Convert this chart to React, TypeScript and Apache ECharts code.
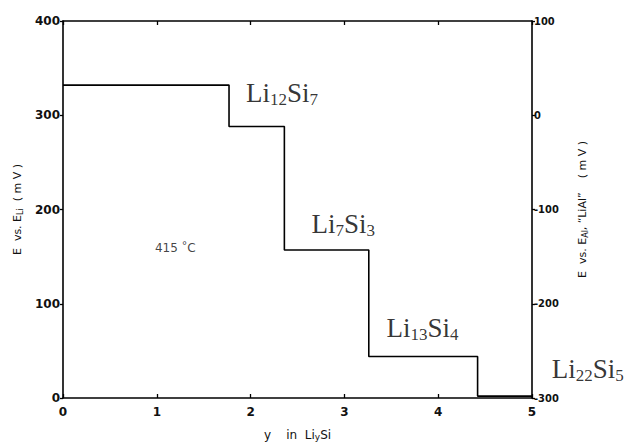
import React, { useEffect, useRef } from "react";
import * as echarts from "echarts";

// plateau data: y in LiySi where each plateau starts, and its potential (mV vs Li)
const plateauStarts = [0, 1.77, 2.36, 3.26, 4.42, 5];
const plateauValues = [332, 288, 157, 44, 2, 2];
const xTicks = [0, 1, 2, 3, 4, 5];
const leftTicks = [0, 100, 200, 300, 400];
const rightOffset = -300; // E vs E_Al = E vs E_Li - 300

const phaseLabels = [
  { text: "{m|Li}{s|12}{m|Si}{s|7}", x: 1.95, y: 324 },
  { text: "{m|Li}{s|7}{m|Si}{s|3}", x: 2.65, y: 185 },
  { text: "{m|Li}{s|13}{m|Si}{s|4}", x: 3.45, y: 74 },
  { text: "{m|Li}{s|22}{m|Si}{s|5}", x: 5.21, y: 31 },
];
const tempLabel = { x: 0.98, y: 159 };

export default function App() {
  const ref = useRef<HTMLDivElement>(null);
  useEffect(() => {
    const chart = echarts.init(ref.current!, null, { renderer: "svg" });
    const sans = "DejaVu Sans";
    const serif = "Liberation Serif";
    const axisLine = { show: true, onZero: false, lineStyle: { color: "#000", width: 1.6 } };
    const tickStyle = { color: "#000", width: 1.3 };
    const stepData = plateauStarts.map((x, i) => [x, plateauValues[i]]);
    const richPhase = {
      m: { fontSize: 27, fontFamily: serif, color: "#000", lineHeight: 30 },
      s: { fontSize: 17, fontFamily: serif, color: "#000", lineHeight: 30, verticalAlign: "bottom", padding: [10, 0, 0, 0] },
    };
    const nameRich = {
      n: { fontFamily: sans, fontSize: 11, color: "#111" },
      ns: { fontFamily: sans, fontSize: 8, color: "#111", padding: [5, 0, 0, 0] },
    };
    chart.setOption({
      animation: false,
      backgroundColor: "#fff",
      grid: { left: 63, right: 95, top: 21, bottom: 45 },
      xAxis: [
        {
          type: "value",
          min: xTicks[0],
          max: xTicks[xTicks.length - 1],
          interval: 1,
          position: "bottom",
          axisLine,
          axisTick: { show: true, inside: true, length: 4, lineStyle: tickStyle },
          splitLine: { show: false },
          axisLabel: { color: "#111", fontFamily: sans, fontSize: 12, fontWeight: "bold", margin: 8 },
          name: "{n|y    in  Li}{ns|y}{n|Si}",
          nameLocation: "middle",
          nameGap: 30,
          nameTextStyle: {
            rich: {
              n: { fontFamily: sans, fontSize: 12, color: "#111" },
              ns: { fontFamily: sans, fontSize: 9, color: "#111", padding: [4, 0, 0, 0] },
            },
          },
        },
        {
          type: "value",
          min: xTicks[0],
          max: xTicks[xTicks.length - 1],
          interval: 1,
          position: "top",
          axisLine,
          axisTick: { show: true, inside: true, length: 4, lineStyle: tickStyle },
          axisLabel: { show: false },
          splitLine: { show: false },
        },
      ],
      yAxis: [
        {
          type: "value",
          min: leftTicks[0],
          max: leftTicks[leftTicks.length - 1],
          interval: 100,
          position: "left",
          axisLine,
          axisTick: { show: true, length: 3, lineStyle: tickStyle },
          splitLine: { show: false },
          axisLabel: { color: "#111", fontFamily: sans, fontSize: 12, fontWeight: "bold", margin: 3 },
          name: "{n|E  vs. E}{ns|Li}{n|  ( m V )}",
          nameLocation: "middle",
          nameGap: 38,
          nameRotate: 90,
          nameTextStyle: { rich: nameRich },
        },
        {
          type: "value",
          min: leftTicks[0] + rightOffset,
          max: leftTicks[leftTicks.length - 1] + rightOffset,
          interval: 100,
          position: "right",
          axisLine,
          axisTick: { show: true, length: 3, lineStyle: tickStyle },
          splitLine: { show: false },
          axisLabel: {
            color: "#111",
            fontFamily: "DejaVu Sans Condensed, DejaVu Sans",
            fontSize: 11,
            fontWeight: "bold",
            margin: 2,
          },
          name: "{n|E  vs. E}{ns|Al}{n|, \u201CLiAl\u201D    ( m V )}",
          nameLocation: "middle",
          nameGap: 44,
          nameRotate: 90,
          nameTextStyle: { rich: nameRich },
        },
      ],
      series: [
        {
          type: "line",
          step: "end",
          data: stepData,
          symbol: "none",
          lineStyle: { color: "#000", width: 1.6 },
          xAxisIndex: 0,
          yAxisIndex: 0,
        },
        {
          type: "scatter",
          clip: false,
          symbolSize: 0,
          silent: true,
          data: phaseLabels.map((p) => ({
            value: [p.x, p.y],
            label: {
              show: true,
              position: "right",
              distance: 0,
              formatter: p.text,
              rich: richPhase,
            },
          })),
        },
        {
          type: "scatter",
          clip: false,
          symbolSize: 0,
          silent: true,
          data: [
            {
              value: [tempLabel.x, tempLabel.y],
              label: {
                show: true,
                position: "right",
                distance: 0,
                formatter: "{t|415 }{d|°}{t|C}",
                rich: {
                  t: { fontFamily: sans, fontSize: 12, color: "#111", lineHeight: 16 },
                  d: { fontFamily: sans, fontSize: 11, color: "#111", lineHeight: 16, padding: [0, 0, 6, 0] },
                },
              },
            },
          ],
        },
      ],
    });
    return () => chart.dispose();
  }, []);
  return (
    <div
      ref={ref}
      style={{ position: "fixed", left: 0, top: 0, width: 627, height: 446, background: "#fff" }}
    />
  );
}
